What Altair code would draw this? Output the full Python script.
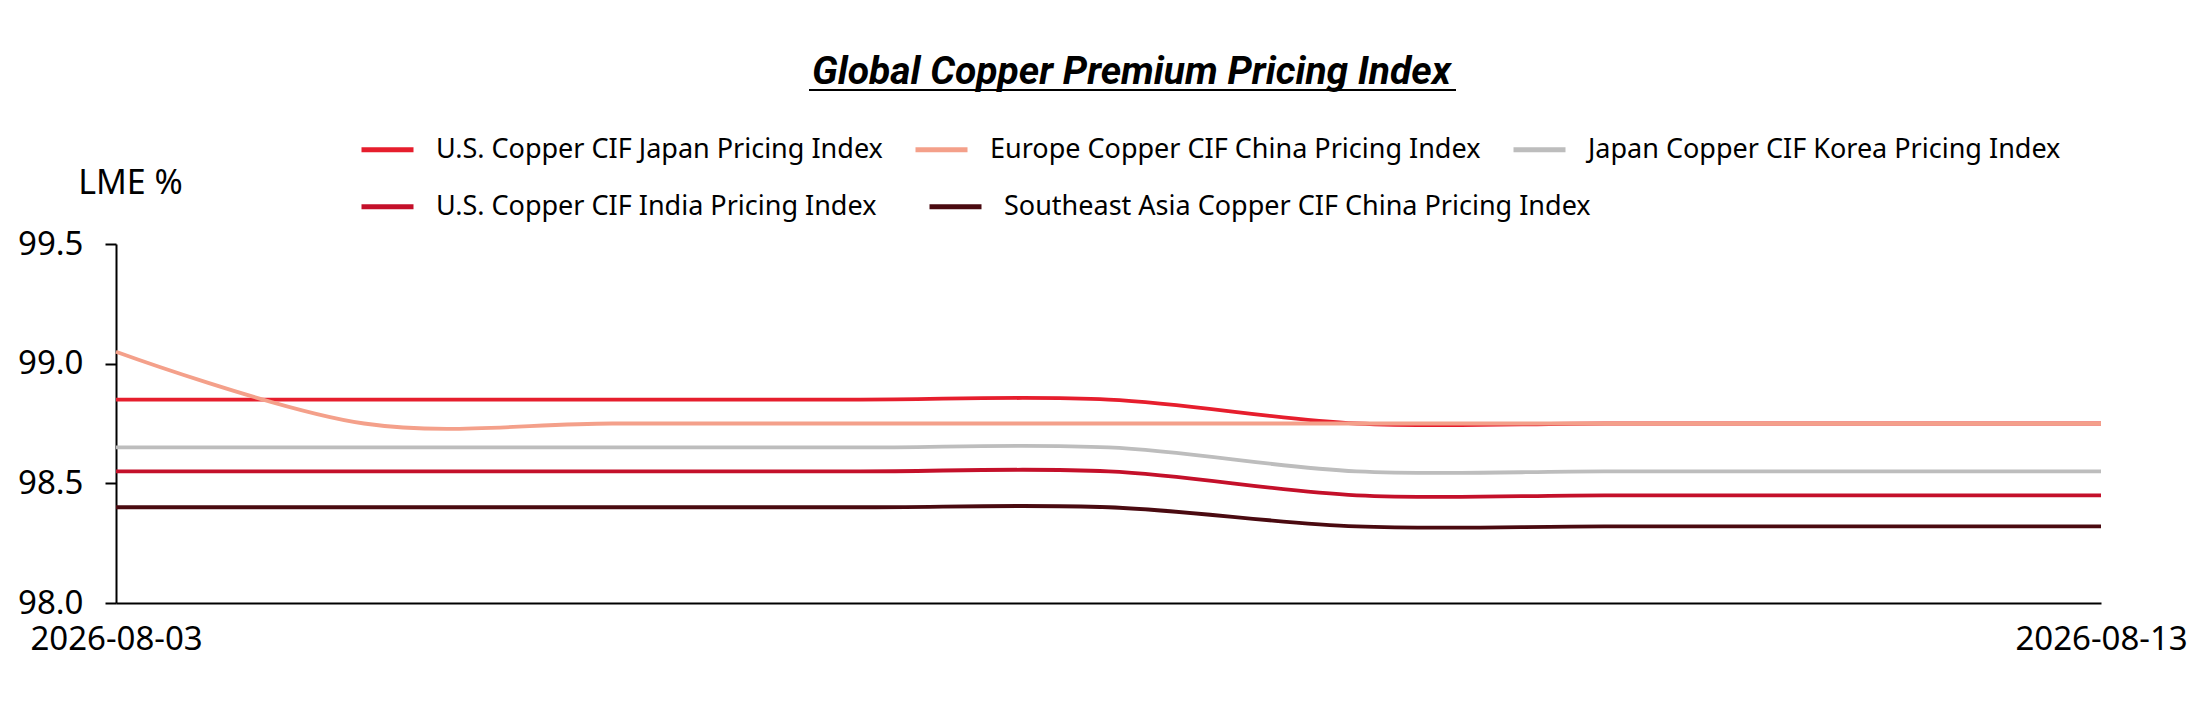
import altair as alt
import pandas as pd

dates = ["2026-08-03", "2026-08-04", "2026-08-05", "2026-08-06", "2026-08-07",
         "2026-08-10", "2026-08-11", "2026-08-12", "2026-08-13"]

row1_names = [
    "U.S. Copper CIF Japan Pricing Index",
    "Europe Copper CIF China Pricing Index",
    "Japan Copper CIF Korea Pricing Index",
]
row2_names = [
    "U.S. Copper CIF India Pricing Index",
    "Southeast Asia Copper CIF China Pricing Index",
]
us_japan = [98.85, 98.85, 98.85, 98.85, 98.85, 98.75, 98.75, 98.75, 98.75]
europe_china = [99.05, 98.75, 98.75, 98.75, 98.75, 98.75, 98.75, 98.75, 98.75]
japan_korea = [98.65, 98.65, 98.65, 98.65, 98.65, 98.55, 98.55, 98.55, 98.55]
us_india = [98.55, 98.55, 98.55, 98.55, 98.55, 98.45, 98.45, 98.45, 98.45]
sea_china = [98.40, 98.40, 98.40, 98.40, 98.40, 98.32, 98.32, 98.32, 98.32]
row1_values = [us_japan, europe_china, japan_korea]
row2_values = [us_india, sea_china]
row1_colors = ["#e61e2d", "#f4a08a", "#bdbdbd"]
row2_colors = ["#c4102a", "#4a0a10"]

y_ticks = [98.0, 98.5, 99.0, 99.5]
x_ticks = [dates[0], dates[-1]]


def make_frame(names, values):
    rows = []
    for name, vals in zip(names, values):
        for d, v in zip(dates, vals):
            rows.append({"date": d, "series": name, "value": v})
    return pd.DataFrame(rows)


df1 = make_frame(row1_names, row1_values)
df2 = make_frame(row2_names, row2_values)

FONT = "Noto Sans"

x_enc = alt.X("date:O", sort=dates,
              scale=alt.Scale(type="point", padding=0),
              axis=alt.Axis(values=x_ticks, title=None, labelAngle=0, ticks=False,
                            labelFontSize=33, labelPadding=20, labelFont=FONT,
                            labelColor="#000000", domainColor="#000000", domainWidth=2,
                            labelFlush=False))
y_enc = alt.Y("value:Q",
              scale=alt.Scale(domain=[98.0, 99.5], nice=False, zero=False),
              axis=alt.Axis(values=y_ticks, format=".1f", grid=False,
                            tickSize=11, tickWidth=2, tickColor="#000000",
                            domainColor="#000000", domainWidth=2,
                            labelFontSize=33, labelFont=FONT, labelColor="#000000",
                            labelPadding=22,
                            title="LME %", titleAngle=0, titleX=14, titleY=-61,
                            titleAlign="center", titleBaseline="middle",
                            titleFontSize=34, titleFontWeight="normal",
                            titleFont=FONT, titleColor="#000000"))

legend_common = dict(title=None, orient="none", direction="horizontal",
                     symbolType="stroke", symbolSize=2704, symbolStrokeWidth=5,
                     labelFontSize=27, labelFont=FONT, labelColor="#000000",
                     labelOffset=20, labelLimit=800)

lines1 = alt.Chart(df1).mark_line(interpolate="cardinal", strokeWidth=3.8).encode(
    x=x_enc, y=y_enc,
    color=alt.Color("series:N", sort=row1_names,
                    scale=alt.Scale(domain=row1_names, range=row1_colors),
                    legend=alt.Legend(legendX=243, legendY=-123, columnPadding=22,
                                      **legend_common)),
    order=alt.Order("date:O"),
)

lines2 = alt.Chart(df2).mark_line(interpolate="cardinal", strokeWidth=3.8).encode(
    x=x_enc, y=y_enc,
    stroke=alt.Stroke("series:N", sort=row2_names,
                      scale=alt.Scale(domain=row2_names, range=row2_colors),
                      legend=alt.Legend(legendX=243, legendY=-66, columnPadding=42,
                                        **legend_common)),
    order=alt.Order("date:O"),
)

underline = alt.Chart(pd.DataFrame({"t": [0]})).mark_rule(color="#000000", strokeWidth=2).encode(
    x=alt.value(693), x2=alt.value(1340), y=alt.value(-154)
)

chart = alt.layer(lines2, lines1, underline).properties(
    width=1985,
    height=359,
    padding={"left": 108, "top": 236, "right": 87, "bottom": 100},
    autosize=alt.AutoSizeParams(type="none"),
    background="#ffffff",
    title=alt.TitleParams(
        text="Global Copper Premium Pricing Index",
        font="Roboto",
        fontSize=39, fontStyle="italic", fontWeight="bold", color="#000000",
        anchor="middle", frame="group", dx=23, dy=74, offset=40, baseline="alphabetic",
    ),
).configure_view(stroke=None)

chart.save("out.html", embed_options={"renderer": "svg", "actions": False})
